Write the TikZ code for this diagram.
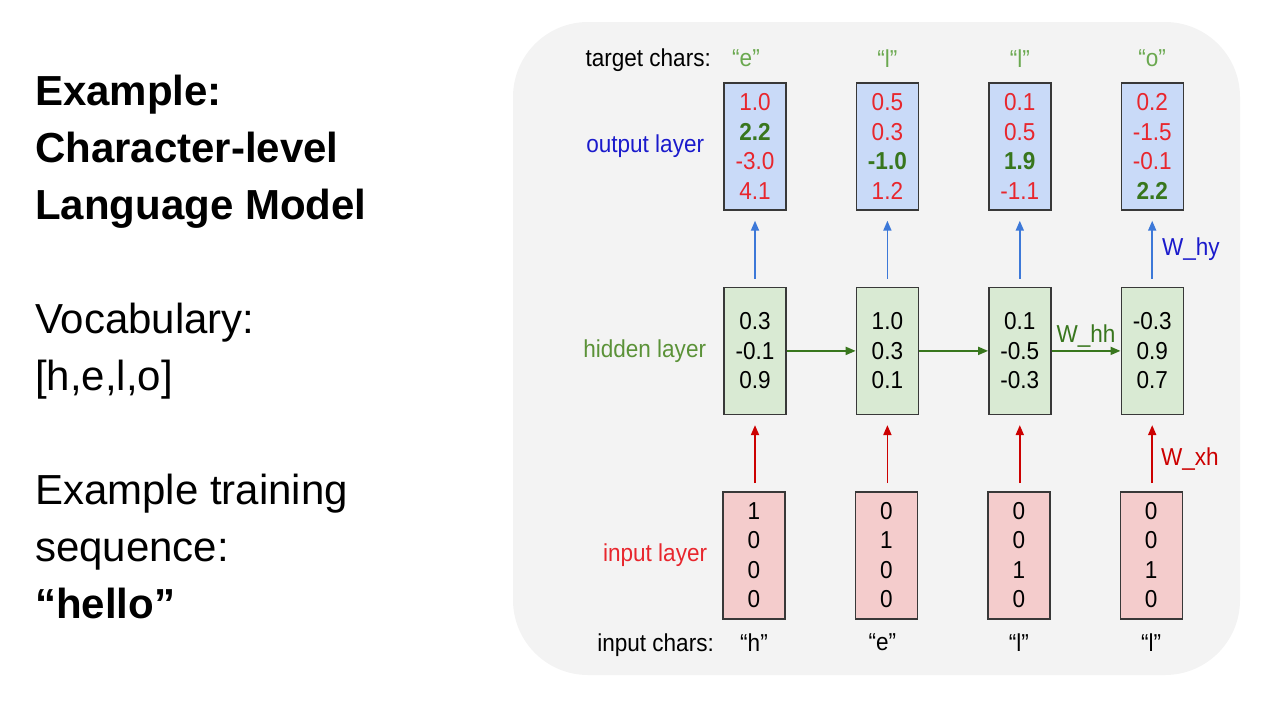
\documentclass[tikz,border=0pt]{standalone}
\usepackage{fontspec}
\setmainfont{Liberation Sans}
\newfontfamily\diagfont[FakeStretch=0.92]{Liberation Sans}
\usetikzlibrary{positioning,arrows.meta}
\definecolor{panelgray}{HTML}{F3F3F3}
\definecolor{outfill}{HTML}{C9DAF8}
\definecolor{hidfill}{HTML}{D9EAD3}
\definecolor{infill}{HTML}{F4CCCC}
\definecolor{valred}{HTML}{E8262D}
\definecolor{valgreen}{HTML}{38761D}
\definecolor{hidgreen}{HTML}{5B9238}
\definecolor{tgtgreen}{HTML}{6AA84F}
\definecolor{outblue}{HTML}{1A1ACC}
\definecolor{arrblue}{HTML}{3C78D8}
\definecolor{arrred}{HTML}{CC0000}
\newcommand{\lo}[1]{\textcolor{valred}{#1}}
\newcommand{\hi}[1]{\textcolor{valgreen}{\bfseries #1}}
\begin{document}
\begin{tikzpicture}[x=1pt,y=-1pt,inner sep=0pt,font=\diagfont\fontsize{24.5}{29.5}\selectfont,
  vec/.style={draw=black!78,line width=1.4pt,minimum width=62pt,minimum height=127pt,align=center},
  outvec/.style={vec,fill=outfill},
  hidvec/.style={vec,fill=hidfill},
  invec/.style={vec,fill=infill},
  conn/.style={line width=1.8pt,-{Triangle[length=10pt,width=8pt]}},
  uparrow/.style={conn,shorten <=8pt,shorten >=10pt},
  big/.style={anchor=base west,font=\normalfont\fontsize{42}{57}\selectfont},
  bigbold/.style={big,font=\normalfont\fontsize{42}{57}\selectfont\bfseries}]
\useasboundingbox (0,0) rectangle (1280,720);
% left text
\node[bigbold] (t1) at (35,105) {Example:};
\node[bigbold] (t2) at (35,162) {Character-level};
\node[bigbold] (t3) at (35,219) {Language Model};
\node[big] (v1) at (35,333) {Vocabulary:};
\node[big] (v2) at (35,390) {[h,e,l,o]};
\node[big] (s1) at (35,504) {Example training};
\node[big] (s2) at (35,561) {sequence:};
\node[bigbold] (s3) at (35,618) {“hello”};
% panel
\fill[panelgray,rounded corners=75pt] (513,22) rectangle (1240,675);
% output layer
\node[outvec] (out1) at (755,146.5) {\lo{1.0}\\\hi{2.2}\\\lo{-3.0}\\\lo{4.1}};
\node[outvec,right=69pt of out1] (out2) {\lo{0.5}\\\lo{0.3}\\\hi{-1.0}\\\lo{1.2}};
\node[outvec,right=69pt of out2] (out3) {\lo{0.1}\\\lo{0.5}\\\hi{1.9}\\\lo{-1.1}};
\node[outvec,right=69pt of out3] (out4) {\lo{0.2}\\\lo{-1.5}\\\lo{-0.1}\\\hi{2.2}};
% hidden layer
\node[hidvec,below=76pt of out1] (hid1) {0.3\\-0.1\\0.9};
\node[hidvec,below=76pt of out2] (hid2) {1.0\\0.3\\0.1};
\node[hidvec,below=76pt of out3] (hid3) {0.1\\-0.5\\-0.3};
\node[hidvec,below=76pt of out4] (hid4) {-0.3\\0.9\\0.7};
% input layer
\node[invec,below=76pt of hid1,xshift=-1pt] (in1) {1\\0\\0\\0};
\node[invec,below=76pt of hid2,xshift=-1pt] (in2) {0\\1\\0\\0};
\node[invec,below=76pt of hid3,xshift=-1pt] (in3) {0\\0\\1\\0};
\node[invec,below=76pt of hid4,xshift=-1pt] (in4) {0\\0\\1\\0};
% labels
\node[left=19pt of out1,outblue] (outlbl) {output layer};
\node[left=17pt of hid1,hidgreen] (hidlbl) {hidden layer};
\node[left=15pt of in1,valred] (inlbl) {input layer};
\node[above=15pt of out1,xshift=-9pt,tgtgreen] (tgt1) {“e”};
\node[above=15pt of out2,tgtgreen] (tgt2) {“l”};
\node[above=15pt of out3,tgtgreen] (tgt3) {“l”};
\node[above=15pt of out4,tgtgreen] (tgt4) {“o”};
\node[base left=21pt of tgt1] (tgtlbl) {target chars:};
\node[below=14pt of in1] (chr1) {“h”};
\node[below=14pt of in2,xshift=-4pt] (chr2) {“e”};
\node[below=14pt of in3] (chr3) {“l”};
\node[below=14pt of in4] (chr4) {“l”};
\node[base left=26pt of chr1] (chrlbl) {input chars:};
% connections
\foreach \i in {1,2,3} {
  \draw[uparrow,arrblue] (hid\i) -- (out\i);
  \draw[uparrow,arrred] (in\i.north -| hid\i) -- (hid\i);
}
\draw[uparrow,arrblue] (hid4) -- node[right=9pt,outblue] (why) {W\_hy} (out4);
\draw[uparrow,arrred] (in4.north -| hid4) -- node[pos=0.42,right=8pt,arrred] (wxh) {W\_xh} (hid4);
\draw[conn,valgreen] (hid1) -- (hid2);
\draw[conn,valgreen] (hid2) -- (hid3);
\draw[conn,valgreen] (hid3) -- node[above=3pt] (whh) {W\_hh} (hid4);
\end{tikzpicture}
\end{document}
